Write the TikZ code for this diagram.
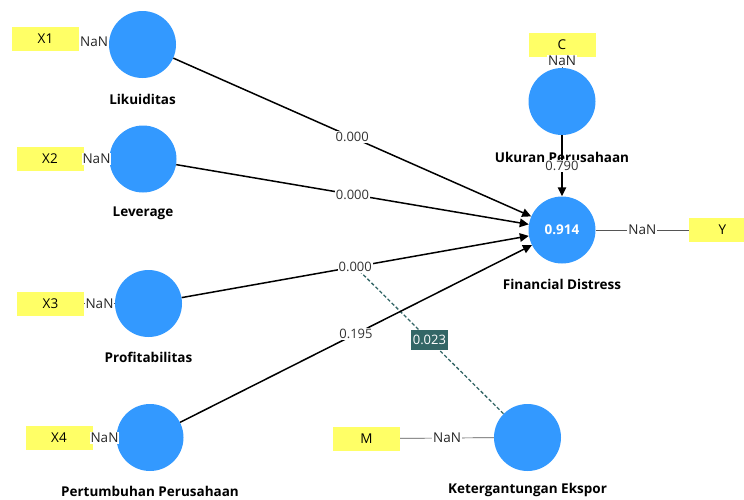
\documentclass[tikz,border=0pt]{standalone}
\usepackage{fontspec}
\setmainfont{Open Sans}
\usetikzlibrary{arrows.meta,calc}
\definecolor{latentblue}{HTML}{3399FF}
\definecolor{indicyellow}{HTML}{FFFF66}
\definecolor{modteal}{HTML}{336666}
\definecolor{loadgray}{HTML}{555555}

\begin{document}
\begin{tikzpicture}[x=1pt,y=-1pt,
  latentvar/.style={circle,fill=latentblue,minimum size=67pt,inner sep=0pt},
  indicator/.style={rectangle,fill=indicyellow,minimum width=67pt,minimum height=24pt,inner sep=0pt,
    font=\fontsize{13.5}{15}\selectfont},
  lvname/.style={font=\bfseries\fontsize{13.5}{15}\selectfont},
  loadline/.style={draw=loadgray,line width=0.7pt},
  nanlabel/.style={fill=white,inner sep=1pt,text=black!85,font=\fontsize{13.5}{15}\selectfont},
  pathline/.style={draw=black,line width=1.5pt,-{Triangle[length=9pt,width=8.5pt]}},
  coef/.style={fill=white,inner sep=1pt,text=black!80,font=\fontsize{13}{15}\selectfont},
  modline/.style={draw=modteal,line width=1.3pt,dash pattern=on 3.5pt off 2.2pt},
  modcoef/.style={fill=modteal,text=white,inner sep=2pt,minimum height=20pt,font=\fontsize{13}{15}\selectfont},
]
\useasboundingbox (0,0) rectangle (744,499);

% latent variables
\node[latentvar] (lik) at (142.5,44.5) {};
\node[latentvar] (lev) at (143,159) {};
\node[latentvar] (prof) at (148.5,303.5) {};
\node[latentvar] (pert) at (150,437.5) {};
\node[latentvar] (uk) at (562,101.5) {};
\node[latentvar] (fd) at (562,230) {\textcolor{white}{\bfseries\fontsize{13.5}{15}\selectfont 0.914}};
\node[latentvar] (ket) at (527.5,437.5) {};

% indicators
\node[indicator] (x1) at (45.5,39) {X1};
\node[indicator] (x2) at (50,159) {X2};
\node[indicator] (x3) at (50.5,303.5) {X3};
\node[indicator] (x4) at (59,438) {X4};
\node[indicator] (c) at (562,45) {C};
\node[indicator] (y) at (722.5,230) {Y};
\node[indicator] (m) at (366.5,438.5) {M};

% construct names
\node[lvname] (likname) at (142.5,99) {Likuiditas};
\node[lvname] (levname) at (143,213) {Leverage};
\node[lvname] (profname) at (148.5,357) {Profitabilitas};
\node[lvname] (pertname) at (150,491) {Pertumbuhan Perusahaan};
\node[lvname] (ukname) at (562,157) {Ukuran Perusahaan};
\node[lvname] (fdname) at (562,284) {Financial Distress};
\node[lvname] (ketname) at (527.5,490) {Ketergantungan Ekspor};

% outer loadings
\draw[loadline] (x1) -- node[nanlabel] {NaN} (lik);
\draw[loadline] (x2) -- node[nanlabel] {NaN} (lev);
\draw[loadline] (x3) -- node[nanlabel] {NaN} (prof);
\draw[loadline] (x4) -- node[nanlabel] {NaN} (pert);
\draw[loadline] (c) -- node[nanlabel,pos=0.35] {NaN} (uk);
\draw[loadline] (fd) -- node[nanlabel] {NaN} (y);
\draw[loadline] (m) -- node[nanlabel] {NaN} (ket);

% moderating effect
\coordinate (modsrc) at ($(prof)!0.5!(fd)$);
\draw[modline] (modsrc) -- node[modcoef,pos=0.5] {0.023} (ket);

% structural paths
\draw[pathline] (lik) -- node[coef] {0.000} (fd);
\draw[pathline] (lev) -- node[coef] {0.000} (fd);
\draw[pathline] (prof) -- node[coef] {0.000} (fd);
\draw[pathline] (pert) -- node[coef] {0.195} (fd);
\draw[pathline] (uk) -- node[coef] {0.790} (fd);
\end{tikzpicture}
\end{document}
